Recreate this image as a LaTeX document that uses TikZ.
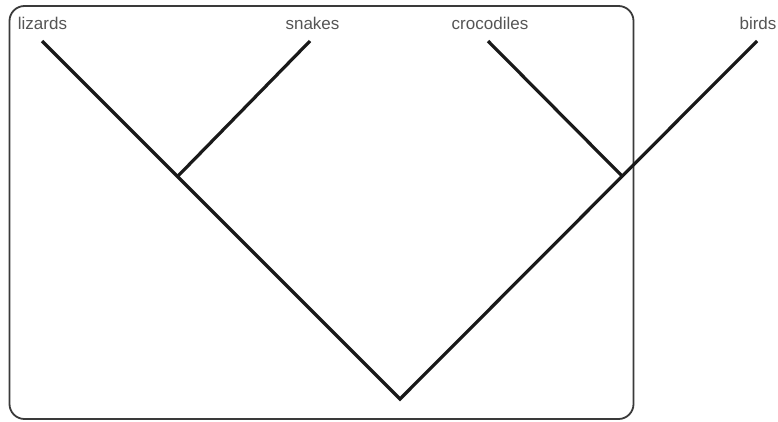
\documentclass[tikz,border=0pt]{standalone}
\usepackage{fontspec}
\setmainfont{Liberation Sans}
\definecolor{labelgray}{HTML}{555555}
\definecolor{boxgray}{HTML}{3A3A3A}
\begin{document}
\begin{tikzpicture}[x=1pt,y=-1pt,
  branch/.style={line width=3.2pt,draw=black!90,line join=miter},
  frame/.style={line width=1.8pt,draw=boxgray,rounded corners=15pt},
  taxon/.style={font=\fontsize{17}{19}\selectfont,text=labelgray,anchor=base,inner sep=0pt}]
\useasboundingbox (0,0) rectangle (778,421);
\draw[frame] (9.5,6) rectangle (633.5,419);
% tips and internal nodes
\coordinate (liz) at (42,41);
\coordinate (sna) at (310,41);
\coordinate (cro) at (488,41);
\coordinate (bir) at (757,41);
\coordinate (sq) at (178,176);
\coordinate (ar) at (622,176);
\coordinate (root) at (400,399);
% labels
\node[taxon] (lizl) at (42.5,29.5) {lizards};
\node[taxon] (snal) at (312.5,29.5) {snakes};
\node[taxon] (crol) at (490,29.5) {crocodiles};
\node[taxon] (birl) at (758,29.5) {birds};
% branches
\draw[branch] (liz) -- (root) -- (bir);
\draw[branch] (sna) -- (sq);
\draw[branch] (cro) -- (ar);
\end{tikzpicture}
\end{document}
